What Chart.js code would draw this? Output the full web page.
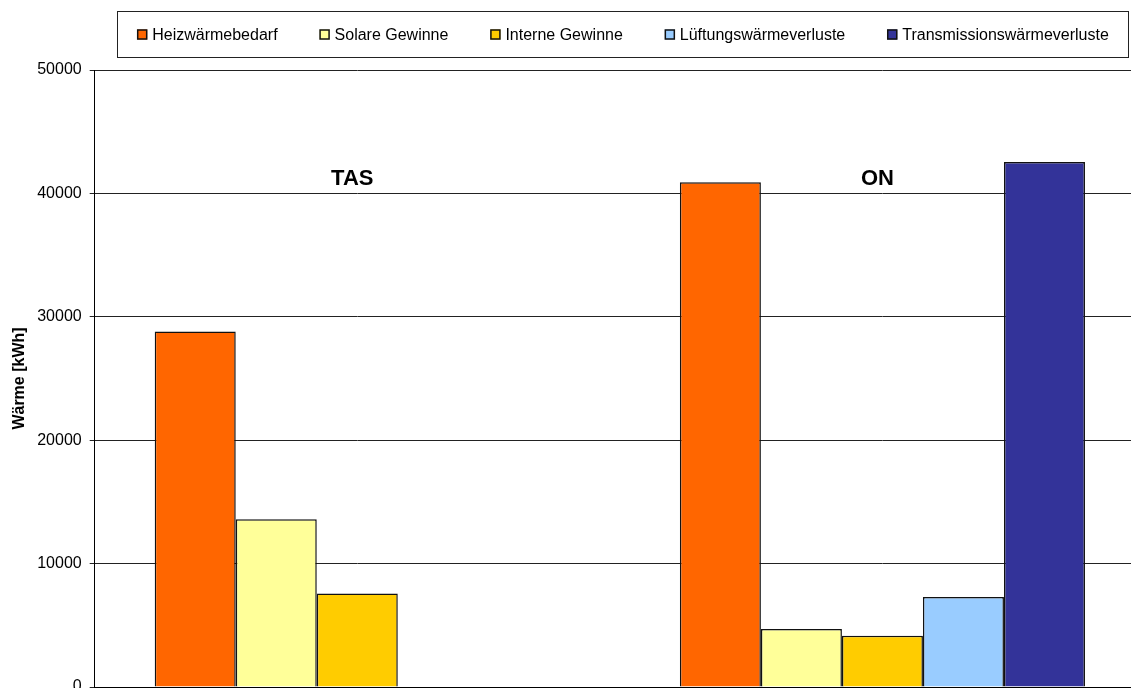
<!DOCTYPE html>
<html>
<head>
<meta charset="utf-8">
<script src="https://cdn.jsdelivr.net/npm/chart.js@4"></script>
<style>
  html, body { margin: 0; padding: 0; background: #fff; overflow: hidden; }
  canvas { display: block; }
</style>
</head>
<body>
<canvas id="heatChart" width="1160" height="720"></canvas>
<script>
const FONT = "'Liberation Sans', Arial, Helvetica, sans-serif"

// Wärmebilanz je Berechnungsverfahren
const categories = ['TAS', 'ON']
const heizwaermebedarf   = [28800, 40900]
const solareGewinne      = [13600, 4700]
const interneGewinne     = [7570, 4160]
const lueftungsverluste  = [null, 7300]
const transmissionsverl  = [null, 42550]
const yTicks = [0, 10000, 20000, 30000, 40000, 50000]

const series = [
  { label: 'Heizwärmebedarf',            data: heizwaermebedarf,  color: '#ff6600' },
  { label: 'Solare Gewinne',             data: solareGewinne,     color: '#ffff99' },
  { label: 'Interne Gewinne',            data: interneGewinne,    color: '#ffcc00' },
  { label: 'Lüftungswärmeverluste',      data: lueftungsverluste, color: '#99ccff' },
  { label: 'Transmissionswärmeverluste', data: transmissionsverl, color: '#333399' },
]

// legend in a framed box above the plot
const boxedLegend = {
  id: 'boxedLegend',
  afterDraw(chart) {
    const ctx = chart.ctx
    const frame = { x: 117.5, y: 11.5, w: 1011, h: 46 }
    ctx.save()
    ctx.strokeStyle = '#222'
    ctx.lineWidth = 1
    ctx.strokeRect(frame.x, frame.y, frame.w, frame.h)

    ctx.font = `16px ${FONT}`
    ctx.textBaseline = 'middle'
    const gap = 42, sq = 10, textGap = 5
    const widths = chart.data.datasets.map(ds => sq + textGap + ctx.measureText(ds.label).width)
    const total = widths.reduce((s, w) => s + w, 0) + gap * (widths.length - 1)
    let x = frame.x + (frame.w - total) / 2
    const cy = frame.y + frame.h / 2
    chart.data.datasets.forEach((ds, i) => {
      ctx.fillStyle = ds.backgroundColor
      ctx.fillRect(x, cy - sq / 2, sq, sq)
      ctx.strokeStyle = '#111'
      ctx.lineWidth = 1.5
      ctx.strokeRect(x + 0.5, cy - sq / 2 + 0.5, sq - 1, sq - 1)
      ctx.fillStyle = '#000'
      ctx.fillText(ds.label, x + sq + textGap, cy + 1)
      x += widths[i] + gap
    })
    ctx.restore()
  }
}

// category names written inside the plot near the top
const categoryTitles = {
  id: 'categoryTitles',
  afterDatasetsDraw(chart) {
    const ctx = chart.ctx
    const xs = chart.scales.x
    ctx.save()
    ctx.font = `bold 22px ${FONT}`
    ctx.fillStyle = '#000'
    ctx.textAlign = 'center'
    ctx.textBaseline = 'alphabetic'
    chart.data.labels.forEach((lab, i) => {
      ctx.fillText(lab, xs.getPixelForValue(i) - 5, 184.5)
    })
    ctx.restore()
  }
}

new Chart(document.getElementById('heatChart'), {
  type: 'bar',
  data: {
    labels: categories,
    datasets: series.map(s => ({
      label: s.label,
      data: s.data,
      backgroundColor: s.color,
      borderColor: '#111',
      borderWidth: 1.5,
      categoryPercentage: 0.7714,
      barPercentage: 1.0,
    }))
  },
  options: {
    responsive: false,
    animation: false,
    devicePixelRatio: 1,
    layout: { padding: { left: 8, top: 70, right: 15, bottom: 25 } },
    plugins: {
      legend: { display: false },
      tooltip: { enabled: false },
    },
    scales: {
      x: {
        ticks: { display: false },
        grid: { display: false },
        border: { display: true, color: '#000', width: 1 },
      },
      y: {
        min: 0,
        max: 50000,
        afterBuildTicks: axis => { axis.ticks = yTicks.map(v => ({ value: v })) },
        ticks: { color: '#000', font: { family: FONT, size: 16 }, padding: 8, callback: v => String(v) },
        grid: { color: '#222', lineWidth: 1, tickLength: 5 },
        border: { color: '#000', width: 1 },
        title: {
          display: true,
          text: 'Wärme [kWh]',
          color: '#000',
          font: { family: FONT, size: 16, weight: 'bold' },
          padding: { top: 2, bottom: 0 },
        },
      },
    },
  },
  plugins: [boxedLegend, categoryTitles],
})
</script>
</body>
</html>
